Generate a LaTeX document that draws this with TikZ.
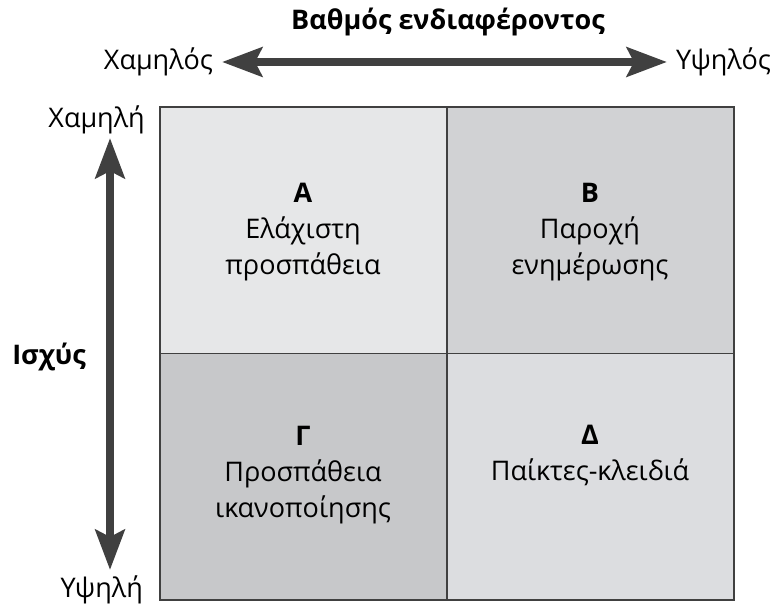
\documentclass[tikz,border=0pt]{standalone}
\usepackage{fontspec}
\setmainfont{Open Sans}
\usetikzlibrary{arrows.meta,positioning}
\definecolor{arrowgray}{HTML}{404040}
\definecolor{cellA}{HTML}{E6E7E8}
\definecolor{cellB}{HTML}{D1D2D4}
\definecolor{cellC}{HTML}{C7C8CA}
\definecolor{cellD}{HTML}{DCDDE0}
\tikzset{
  cell/.style={draw=black!75, line width=1.2pt, minimum width=287pt,
    minimum height=246.5pt, inner sep=0pt, align=center},
  bigarrow/.style={arrowgray, line width=8.5pt,
    {Stealth[length=40pt,width=29pt,inset=7pt]}-{Stealth[length=40pt,width=29pt,inset=7pt]}},
  axislabel/.style={font=\fontsize{27}{30}\selectfont, inner sep=2pt},
  celltext/.style={font=\fontsize{27}{36}\selectfont, align=center}
}
\begin{document}
\begin{tikzpicture}[x=1pt,y=-1pt]
  \useasboundingbox[fill=white] (0,0) rectangle (778,609);
  % grid of four cells
  \node[cell, fill=cellA] (qa) at (303.5,230.25) {};
  \node[cell, fill=cellB] (qb) at (590.5,230.25) {};
  \node[cell, fill=cellC] (qc) at (303.5,476.75) {};
  \node[cell, fill=cellD] (qd) at (590.5,476.75) {};
  \node[celltext] at (303,232) {\textbf{Α}\\Ελάχιστη\\προσπάθεια};
  \node[celltext] at (590,232) {\textbf{Β}\\Παροχή\\ενημέρωσης};
  \node[celltext] at (303,475) {\textbf{Γ}\\Προσπάθεια\\ικανοποίησης};
  \node[celltext] at (590,455) {\textbf{Δ}\\Παίκτες-κλειδιά};
  % horizontal axis
  \node[axislabel, font=\fontsize{27}{30}\selectfont\bfseries] (title) at (448,22) {Βαθμός ενδιαφέροντος};
  \node[axislabel, inner xsep=9pt, anchor=east] (xlow) at (222,62) {Χαμηλός};
  \node[axislabel, inner xsep=9pt, anchor=west] (xhigh) at (667,62) {Υψηλός};
  \draw[bigarrow] (xlow.east) -- (xhigh.west);
  % vertical axis
  \node[axislabel, anchor=base east] (ylow) at (147,128) {Χαμηλή};
  \node[axislabel, anchor=base east] (yhigh) at (145,597) {Υψηλή};
  \node[axislabel, font=\fontsize{27}{30}\selectfont\bfseries] (power) at (49,357) {Ισχύς};
  \coordinate (ytop) at (110,138);
  \coordinate (ybot) at (110,570);
  \draw[bigarrow] (ytop) -- (ybot);
\end{tikzpicture}
\end{document}
